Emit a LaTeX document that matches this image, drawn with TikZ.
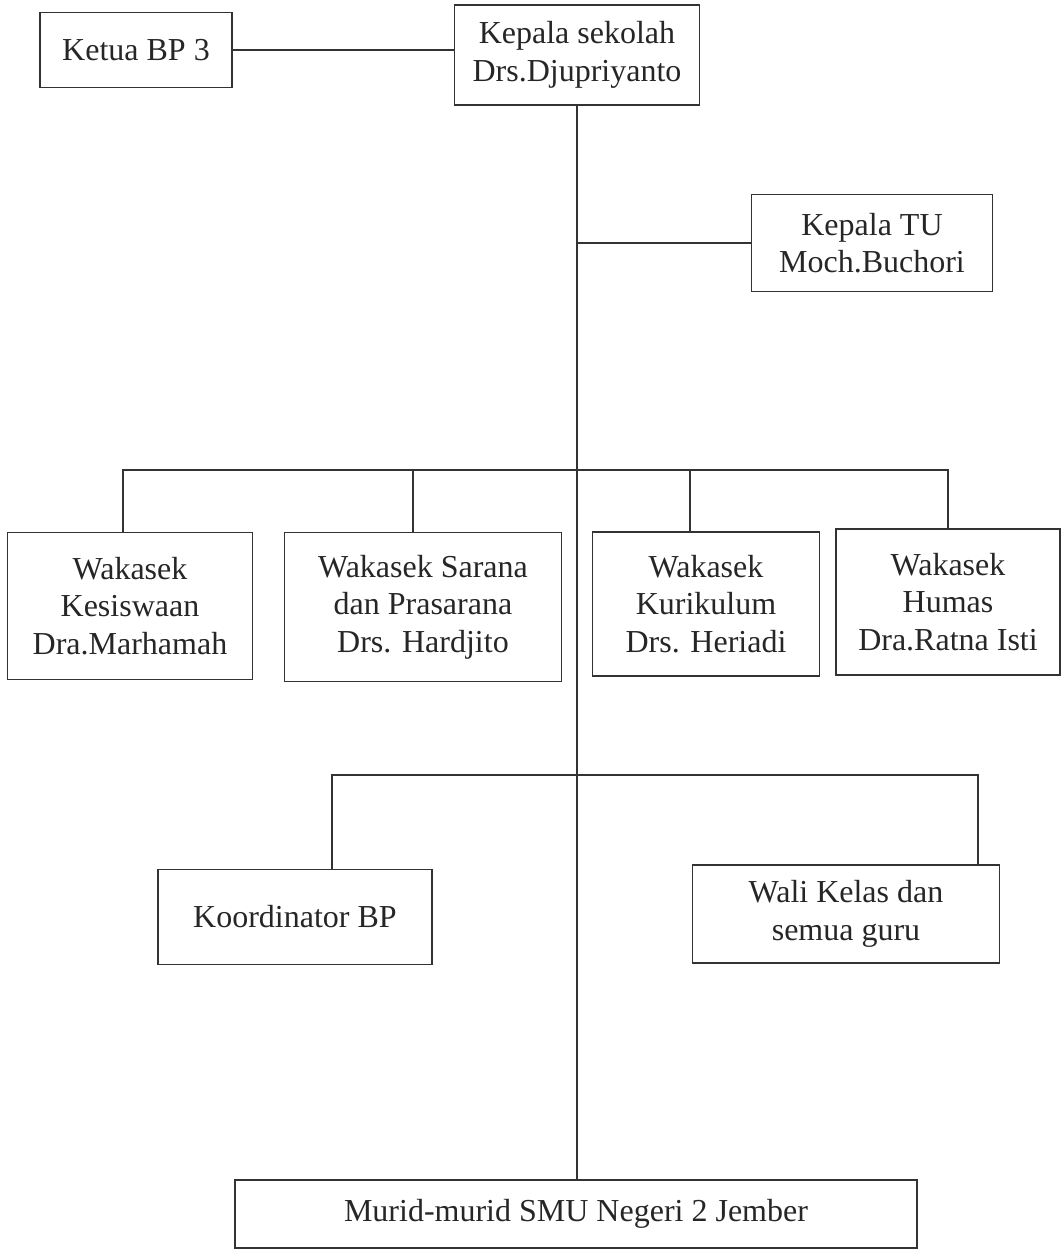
\documentclass[tikz,border=0pt]{standalone}
\usepackage{fontspec}
\setmainfont{Liberation Serif}
\usepackage{tikz}
\usetikzlibrary{calc}

\tikzset{
  orgbox/.style={draw=black!80, semithick, inner sep=0pt, align=center,
    text=black!85, font=\fontsize{12}{14}\selectfont},
  orgline/.style={black!80, semithick}
}

\begin{document}
\begin{tikzpicture}[x=0.375pt,y=-0.375pt]
			\useasboundingbox (0,0) rectangle (1063,1258);
			\node [orgbox,minimum width=72pt,minimum height=28.1pt] (ketua) at (136,50) {Ketua BP 3};
			\node [orgbox,minimum width=91.9pt,minimum height=37.5pt] (kepsek) at (577,55) {Kepala sekolah\\Drs.Djupriyanto};
			\node [orgbox,minimum width=90.4pt,minimum height=36.4pt] (ktu) at (872,243) {Kepala TU\\Moch.Buchori};
			\node [orgbox,minimum width=91.9pt,minimum height=55.1pt] (kesiswaan) at (130,606) {Wakasek\\Kesiswaan\\Dra.Marhamah};
			\node [orgbox,minimum width=103.9pt,minimum height=55.9pt] (sarana) at (423,607) {Wakasek Sarana\\dan Prasarana\\Drs. Hardjito};
			\node [orgbox,minimum width=85.1pt,minimum height=54pt] (kurikulum) at (706,604) {Wakasek\\Kurikulum\\Drs. Heriadi};
			\node [orgbox,minimum width=84pt,minimum height=54.8pt] (humas) at (948,602) {Wakasek\\Humas\\Dra.Ratna Isti};
			\node [orgbox,minimum width=102.8pt,minimum height=35.6pt] (koord) at (295,917) {Koordinator BP};
			\node [orgbox,minimum width=115.1pt,minimum height=36.8pt] (wali) at (846,914) {Wali Kelas dan\\semua guru};
			\node [orgbox,minimum width=255.8pt,minimum height=25.5pt] (murid) at (576,1214) {Murid-murid SMU Negeri 2 Jember};
			\coordinate (bus1) at (578,470);
			\coordinate (bus2) at (578,775);
			\draw [orgline] (ketua.east) -- (ketua.east -| kepsek.west);
			\draw [orgline] (kepsek.south) -- (kepsek.south |- murid.north);
			\draw [orgline] (ktu.west) -- (ktu.west -| kepsek.south);
			\draw [orgline] ($(kesiswaan.north)+(-7,0)$) |- (bus1) -| (humas.north);
			\draw [orgline] ($(sarana.north)+(-10,0)$) -- ($(sarana.north |- bus1)+(-10,0)$);
			\draw [orgline] ($(kurikulum.north)+(-16,0)$) -- ($(kurikulum.north |- bus1)+(-16,0)$);
			\draw [orgline] ($(koord.north)+(37,0)$) |- (bus2) -| ($(wali.north)+(132,0)$);
		\end{tikzpicture}
\end{document}
